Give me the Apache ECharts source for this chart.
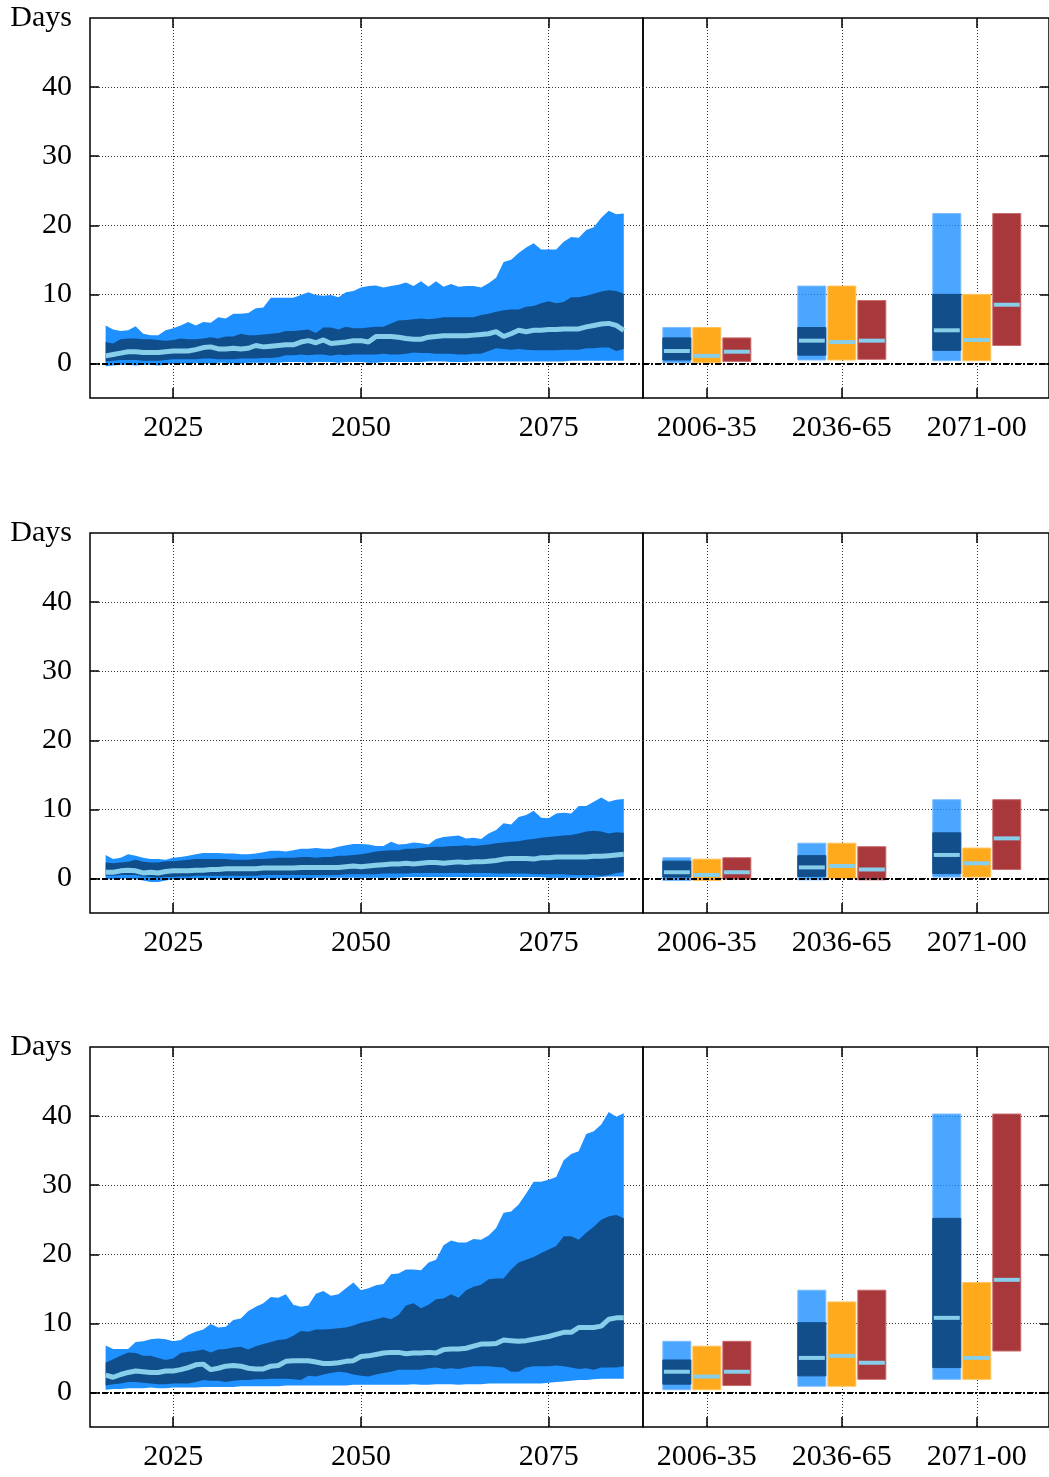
<!DOCTYPE html>
<html>
<head>
<meta charset="utf-8">
<script src="https://cdn.jsdelivr.net/npm/echarts@6/dist/echarts.min.js"></script>
<style>
  html, body { margin: 0; padding: 0; background: #fff; }
  #chart { width: 1049px; height: 1477px; }
</style>
</head>
<body>
<div id="chart"></div>
<script>
// Años de la serie temporal (2016-2085)
const years = [];
for (let y = 2016; y <= 2085; y++) years.push(y);

const yearTicks = [2025, 2050, 2075];
const periods = ['2006-35', '2036-65', '2071-00'];
const dayTicks = [0, 10, 20, 30, 40];

// Panel 1
const p1OuterHi = [5.5,4.9,4.7,4.8,5.4,4.3,4.1,4.1,4.8,5.1, 5.5,6.0,5.5,6.0,5.9,6.7,6.5,7.2,7.2,7.3, 8.0,8.1,9.5,9.5,9.5,9.5,9.9,10.3,9.9,9.8, 9.9,9.6,10.3,10.5,11.0,11.2,11.3,11.0,11.2,11.4, 11.7,11.2,11.9,11.1,11.9,11.1,11.5,11.1,11.2,11.2, 11.0,11.6,12.4,14.7,15.0,16.0,16.8,17.4,16.5,16.5, 16.5,17.6,18.3,18.2,19.3,19.7,21.1,22.1,21.6,21.7];
const p1InnerHi = [3.1,2.9,3.5,3.6,3.6,3.5,3.5,3.4,3.3,3.4, 3.6,3.5,3.5,3.6,3.8,3.6,3.9,3.9,4.3,4.1, 4.1,4.2,4.3,4.4,4.7,4.7,4.8,4.9,4.4,5.2, 5.2,4.9,5.3,5.1,5.1,5.2,5.3,5.3,5.8,6.2, 6.3,6.4,6.5,6.4,6.5,6.7,6.7,6.7,6.7,6.7, 7.0,7.2,7.5,7.7,7.8,7.8,8.2,8.3,8.7,9.0, 8.7,8.9,9.6,9.6,9.8,10.1,10.4,10.6,10.5,10.1];
const p1Median = [1.1,1.3,1.5,1.7,1.7,1.6,1.6,1.6,1.7,1.8, 1.8,1.8,2.0,2.3,2.4,2.1,2.1,2.2,2.1,2.2, 2.6,2.4,2.5,2.6,2.7,2.7,3.1,3.3,3.0,3.4, 2.9,3.0,3.1,3.3,3.3,3.1,3.9,3.9,3.9,3.8, 3.6,3.5,3.5,3.8,3.9,4.0,4.0,4.0,4.0,4.1, 4.2,4.3,4.6,3.9,4.3,4.8,4.6,4.8,4.8,4.9, 4.9,5.0,5.0,5.0,5.3,5.5,5.7,5.8,5.5,4.8];
const p1InnerLo = [0.3,0.4,0.5,0.5,0.5,0.4,0.4,0.4,0.5,0.6, 0.6,0.6,0.6,0.7,0.7,0.6,0.6,0.6,0.7,0.7, 0.7,0.8,0.8,0.9,1.2,1.2,1.3,1.2,1.3,1.3, 1.1,1.3,1.2,1.3,1.3,1.3,1.3,1.4,1.3,1.3, 1.4,1.6,1.5,1.5,1.4,1.4,1.4,1.3,1.3,1.4, 1.4,1.8,2.2,2.1,2.0,2.1,2.0,1.9,1.9,1.9, 1.9,2.0,2.0,2.0,2.2,2.2,2.3,2.3,1.8,2.1];
const p1OuterLo = [-0.4,-0.3,-0.2,-0.2,-0.3,-0.2,-0.2,-0.3,-0.2,0.0, 0.0,0.0,0.1,0.0,0.0,0.1,0.1,0.0,0.0,0.1, 0.1,0.1,0.1,0.1,0.2,0.2,0.2,0.1,0.2,0.2, 0.2,0.1,0.2,0.2,0.2,0.1,0.1,0.2,0.2,0.2, 0.2,0.2,0.2,0.3,0.3,0.3,0.2,0.2,0.2,0.3, 0.3,0.3,0.3,0.3,0.3,0.3,0.3,0.3,0.3,0.3, 0.3,0.3,0.4,0.4,0.4,0.4,0.4,0.4,0.4,0.4];

// Panel 2
const p2OuterHi = [3.4,2.8,3.0,3.5,3.3,3.0,2.8,2.8,2.7,3.0, 3.1,3.3,3.5,3.7,3.7,3.7,3.6,3.6,3.5,3.5, 3.6,3.8,4.0,4.0,3.9,4.1,4.3,4.3,4.4,4.3, 4.3,4.6,4.8,5.0,5.0,4.9,4.7,4.7,5.3,4.9, 5.0,5.2,5.1,4.9,5.7,6.0,6.1,6.2,5.8,5.9, 5.7,6.5,7.0,8.0,7.8,8.9,9.2,9.8,8.8,8.7, 9.4,9.5,9.4,10.5,10.5,11.1,11.7,11.1,11.4,11.5];
const p2InnerHi = [2.3,2.2,2.3,2.4,2.7,2.4,2.3,2.3,2.5,2.5, 2.6,2.7,2.8,2.8,2.8,2.8,2.8,2.7,2.7,2.7, 2.8,2.8,2.9,3.0,3.0,3.0,3.1,3.1,3.0,3.1, 3.1,3.3,3.3,3.4,3.5,3.7,3.9,4.0,4.1,4.1, 4.3,4.3,4.4,4.5,4.6,4.6,4.7,4.7,4.8,4.7, 4.8,4.9,5.1,5.2,5.3,5.4,5.6,5.7,5.9,6.0, 6.1,6.2,6.3,6.5,6.8,6.9,6.8,6.5,6.7,6.6];
const p2Median = [0.9,0.9,1.1,1.2,1.1,0.8,0.9,0.8,1.0,1.1, 1.1,1.1,1.2,1.2,1.3,1.3,1.4,1.4,1.4,1.4, 1.4,1.5,1.5,1.5,1.5,1.5,1.6,1.6,1.6,1.6, 1.6,1.6,1.7,1.8,1.7,1.8,1.9,2.0,2.1,2.1, 2.2,2.1,2.2,2.3,2.3,2.2,2.3,2.4,2.3,2.4, 2.4,2.5,2.6,2.8,2.9,2.9,2.9,2.8,3.0,3.0, 3.1,3.1,3.1,3.1,3.1,3.2,3.2,3.3,3.4,3.5];
const p2InnerLo = [0.4,0.4,0.5,0.5,0.5,0.3,0.2,0.1,0.2,0.2, 0.3,0.3,0.4,0.4,0.4,0.4,0.4,0.4,0.4,0.4, 0.4,0.5,0.5,0.5,0.5,0.5,0.5,0.5,0.5,0.5, 0.5,0.5,0.6,0.6,0.6,0.6,0.6,0.7,0.7,0.7, 0.7,0.8,0.8,0.8,0.8,0.8,0.8,0.8,0.8,0.8, 0.8,0.8,0.7,0.7,0.7,0.7,0.7,0.6,0.6,0.6, 0.6,0.6,0.5,0.5,0.5,0.5,0.4,0.5,0.8,0.9];
const p2OuterLo = [-0.1,-0.1,0.0,0.0,-0.1,-0.3,-0.5,-0.5,-0.3,-0.1, -0.1,0.0,0.0,0.0,0.0,0.0,0.0,0.0,0.0,0.0, 0.0,0.0,0.0,0.0,0.0,0.0,0.0,0.0,0.1,0.1, 0.1,0.1,0.1,0.1,0.1,0.1,0.1,0.1,0.1,0.1, 0.2,0.2,0.2,0.2,0.2,0.2,0.2,0.2,0.2,0.2, 0.2,0.2,0.2,0.2,0.2,0.2,0.2,0.2,0.2,0.1, 0.1,0.1,0.1,0.1,0.1,0.1,0.2,0.3,0.3,0.3];

// Panel 3
const p3OuterHi = [6.8,6.3,6.3,6.3,7.3,7.4,7.7,7.8,7.7,7.4, 7.6,8.3,8.8,9.1,9.9,9.4,9.5,10.5,10.7,11.8, 12.4,12.9,13.8,13.7,14.2,12.7,12.4,12.6,14.3,14.7, 14.0,14.2,15.1,15.9,14.8,15.1,15.5,15.7,17.1,17.2, 17.8,17.8,17.7,18.8,19.2,21.3,22.0,21.7,21.7,22.2, 22.1,22.7,23.8,26.0,26.2,27.2,28.8,30.5,30.5,30.8, 31.2,33.6,34.5,34.9,37.4,37.8,38.8,40.6,39.9,40.4];
const p3InnerHi = [4.3,4.8,5.3,5.8,5.7,5.3,5.3,5.0,4.7,4.9, 5.7,5.9,6.0,6.2,5.8,6.2,6.3,6.5,6.6,6.2, 6.7,7.0,7.3,7.6,7.7,8.2,8.9,8.8,9.1,9.1, 9.2,9.3,9.4,9.7,10.1,10.3,10.6,10.9,10.6,11.2, 12.6,12.9,12.2,12.7,13.5,13.6,14.2,13.7,14.8,15.3, 15.6,16.4,16.5,16.5,17.8,18.8,19.2,19.6,20.2,20.7, 21.2,22.6,22.6,22.1,23.1,24.0,25.0,25.5,25.7,25.2];
const p3Median = [2.5,2.2,2.6,2.9,3.1,3.0,2.9,2.9,3.1,3.1, 3.3,3.6,4.0,4.1,3.3,3.5,3.8,3.9,3.8,3.5, 3.4,3.4,3.8,3.9,4.5,4.6,4.6,4.6,4.4,4.2, 4.2,4.3,4.5,4.6,5.2,5.3,5.5,5.7,5.8,5.8, 5.6,5.7,5.7,5.8,5.7,6.2,6.3,6.3,6.4,6.7, 7.0,7.0,7.1,7.6,7.5,7.4,7.5,7.7,7.9,8.1, 8.4,8.7,8.7,9.4,9.4,9.4,9.6,10.6,10.8,10.8];
const p3InnerLo = [1.0,1.2,1.3,1.5,1.5,1.4,1.3,1.2,1.2,1.3, 1.3,1.3,1.5,1.8,1.7,1.7,1.5,1.7,1.8,1.8, 1.9,1.9,2.0,2.0,2.0,1.9,1.8,2.4,2.3,2.6, 2.8,3.0,2.9,2.6,2.4,2.3,2.6,2.8,3.0,3.3, 3.3,3.3,3.3,3.5,3.6,3.4,3.5,3.4,3.6,3.8, 3.8,3.8,3.7,3.6,3.0,3.0,3.6,3.8,3.8,3.8, 3.9,3.8,3.6,3.4,3.5,3.3,3.6,3.6,3.6,3.8];
const p3OuterLo = [0.4,0.5,0.5,0.6,0.6,0.6,0.7,0.6,0.6,0.7, 0.7,0.7,0.7,0.8,0.8,0.8,0.8,0.8,0.9,0.9, 0.9,0.9,0.9,0.9,1.0,1.0,1.0,1.0,1.0,1.0, 1.0,1.0,1.0,1.1,1.1,1.1,1.1,1.1,1.1,1.1, 1.1,1.2,1.1,1.1,1.2,1.2,1.2,1.1,1.2,1.2, 1.2,1.3,1.3,1.3,1.3,1.3,1.3,1.3,1.3,1.4, 1.5,1.6,1.7,1.8,1.8,1.9,2.0,2.0,2.0,2.0];

// Barras por periodo: [bajo, alto] y mediana
const p1BlueOuter = [[0.1,5.2],[0.5,11.2],[0.4,21.7]];
const p1BlueInner = [[0.5,3.7],[1.2,5.2],[1.9,10.0]];
const p1BlueMed = [1.8,3.3,4.8];
const p1Orange = [[0.1,5.2],[0.5,11.2],[0.4,10.0]];
const p1OrangeMed = [1.1,3.1,3.4];
const p1Red = [[0.3,3.7],[0.6,9.1],[2.6,21.7]];
const p1RedMed = [1.7,3.3,8.5];

const p2BlueOuter = [[-0.3,3.0],[-0.2,5.1],[0.2,11.4]];
const p2BlueInner = [[0.2,2.5],[0.3,3.3],[0.7,6.6]];
const p2BlueMed = [0.9,1.6,3.4];
const p2Orange = [[-0.3,2.8],[0.0,5.1],[0.2,4.4]];
const p2OrangeMed = [0.5,1.8,2.2];
const p2Red = [[-0.1,3.0],[-0.2,4.6],[1.3,11.4]];
const p2RedMed = [0.9,1.3,5.8];

const p3BlueOuter = [[0.4,7.4],[0.9,14.8],[1.9,40.3]];
const p3BlueInner = [[1.2,4.7],[2.4,10.1],[3.6,25.2]];
const p3BlueMed = [3.0,5.0,10.8];
const p3Orange = [[0.4,6.7],[0.9,13.1],[1.9,15.9]];
const p3OrangeMed = [2.3,5.3,5.0];
const p3Red = [[1.0,7.4],[1.9,14.8],[6.0,40.3]];
const p3RedMed = [3.0,4.3,16.3];

const panels = [
  { outerHi: p1OuterHi, innerHi: p1InnerHi, median: p1Median, innerLo: p1InnerLo, outerLo: p1OuterLo,
    blueOuter: p1BlueOuter, blueInner: p1BlueInner, blueMed: p1BlueMed, orange: p1Orange, orangeMed: p1OrangeMed, red: p1Red, redMed: p1RedMed },
  { outerHi: p2OuterHi, innerHi: p2InnerHi, median: p2Median, innerLo: p2InnerLo, outerLo: p2OuterLo,
    blueOuter: p2BlueOuter, blueInner: p2BlueInner, blueMed: p2BlueMed, orange: p2Orange, orangeMed: p2OrangeMed, red: p2Red, redMed: p2RedMed },
  { outerHi: p3OuterHi, innerHi: p3InnerHi, median: p3Median, innerLo: p3InnerLo, outerLo: p3OuterLo,
    blueOuter: p3BlueOuter, blueInner: p3BlueInner, blueMed: p3BlueMed, orange: p3Orange, orangeMed: p3OrangeMed, red: p3Red, redMed: p3RedMed }
];

const panelTops = [18, 533, 1047];
const FONT = 'Liberation Serif';
const BAR_W = 28;
const BAR_OFF = 30;

const COL_OUTER = '#1e90ff';
const COL_INNER = '#104e8b';
const COL_MED = '#87ceeb';

const gridLine = { show: true, lineStyle: { type: [1, 2], color: '#333', width: 1 } };
const labelStyle = { color: '#000', fontFamily: FONT, fontSize: 30 };
const sinLinea = { show: false, onZero: false };

// Banda rellena entre dos curvas
function banda(p, lo, hi, color) {
  return {
    type: 'custom', xAxisIndex: 4 * p, yAxisIndex: 2 * p,
    silent: true, animation: false,
    data: [[years[0], lo[0]]],
    renderItem: (params, api) => {
      const pts = [];
      years.forEach((y, i) => pts.push(api.coord([y, hi[i]])));
      for (let i = years.length - 1; i >= 0; i--) pts.push(api.coord([years[i], lo[i]]));
      return { type: 'polygon', shape: { points: pts }, style: { fill: color } };
    }
  };
}

// Barra flotante [bajo, alto] desplazada respecto al periodo
function barra(p, filas, off, fill, stroke) {
  return {
    type: 'custom', xAxisIndex: 4 * p + 2, yAxisIndex: 2 * p + 1,
    silent: true, animation: false,
    data: filas.map((r, i) => [i, r[0], r[1]]),
    renderItem: (params, api) => {
      const a = api.coord([api.value(0), api.value(2)]);
      const b = api.coord([api.value(0), api.value(1)]);
      return {
        type: 'rect',
        shape: { x: a[0] + off - BAR_W / 2, y: a[1], width: BAR_W, height: b[1] - a[1] },
        style: { fill: fill, stroke: stroke, lineWidth: 1 }
      };
    }
  };
}

function medianas(p, vals, off, conCero) {
  const s = {
    type: 'custom', xAxisIndex: 4 * p + 2, yAxisIndex: 2 * p + 1,
    silent: true, animation: false,
    data: vals.map((v, i) => [i, v]),
    renderItem: (params, api) => {
      const c = api.coord([api.value(0), api.value(1)]);
      return {
        type: 'rect',
        shape: { x: c[0] + off - BAR_W / 2 + 1, y: c[1] - 2, width: BAR_W - 2, height: 4 },
        style: { fill: COL_MED }
      };
    }
  };
  if (conCero) s.markLine = lineaCero();
  return s;
}

function lineaCero() {
  return {
    silent: true, symbol: ['none', 'none'], label: { show: false },
    lineStyle: { color: '#000', width: 2, type: [6, 2, 2, 2] },
    data: [{ yAxis: 0 }]
  };
}

const grid = [], xAxis = [], yAxis = [], series = [];

panels.forEach((d, p) => {
  const top = panelTops[p];
  grid.push({ left: 90, top: top, width: 553, height: 380, show: true, borderColor: '#000', borderWidth: 1.5 });
  grid.push({ left: 643, top: top, width: 407, height: 380, show: true, borderColor: '#000', borderWidth: 1.5 });

  // eje de años
  xAxis.push({
    type: 'value', gridIndex: 2 * p, min: 2013.92, max: 2087.56, position: 'bottom',
    axisLine: sinLinea,
    axisTick: { inside: true, length: 10, customValues: yearTicks, lineStyle: { color: '#000', width: 1.5 } },
    axisLabel: Object.assign({ customValues: yearTicks, margin: 15, formatter: v => String(v) }, labelStyle),
    splitLine: gridLine
  });
  xAxis.push({
    type: 'value', gridIndex: 2 * p, min: 2013.92, max: 2087.56, position: 'top',
    axisLine: sinLinea,
    axisTick: { inside: true, length: 10, customValues: yearTicks, lineStyle: { color: '#000', width: 1.5 } },
    axisLabel: { show: false }, splitLine: { show: false }
  });
  // eje de periodos
  xAxis.push({
    type: 'value', gridIndex: 2 * p + 1, min: -0.473, max: 2.535, position: 'bottom',
    axisLine: sinLinea,
    axisTick: { inside: true, length: 10, customValues: [0, 1, 2], lineStyle: { color: '#000', width: 1.5 } },
    axisLabel: Object.assign({ customValues: [0, 1, 2], margin: 15, formatter: v => periods[Math.round(v)] }, labelStyle),
    splitLine: gridLine
  });
  xAxis.push({
    type: 'value', gridIndex: 2 * p + 1, min: -0.473, max: 2.535, position: 'top',
    axisLine: sinLinea,
    axisTick: { inside: true, length: 10, customValues: [0, 1, 2], lineStyle: { color: '#000', width: 1.5 } },
    axisLabel: { show: false }, splitLine: { show: false }
  });

  yAxis.push({
    type: 'value', gridIndex: 2 * p, min: -5, max: 50, position: 'left',
    axisLine: sinLinea,
    axisTick: { inside: true, length: 9, customValues: dayTicks, lineStyle: { color: '#000', width: 1.5 } },
    axisLabel: Object.assign({ customValues: dayTicks.concat([50]), margin: 18, formatter: v => (v === 50 ? 'Days' : String(v)) }, labelStyle),
    splitLine: gridLine
  });
  yAxis.push({
    type: 'value', gridIndex: 2 * p + 1, min: -5, max: 50, position: 'right',
    axisLine: sinLinea,
    axisTick: { inside: true, length: 9, customValues: dayTicks, lineStyle: { color: '#000', width: 1.5 } },
    axisLabel: { show: false },
    splitLine: gridLine
  });

  series.push(banda(p, d.outerLo, d.outerHi, COL_OUTER));
  series.push(banda(p, d.innerLo, d.innerHi, COL_INNER));
  series.push({
    type: 'line', xAxisIndex: 4 * p, yAxisIndex: 2 * p,
    data: years.map((y, i) => [y, d.median[i]]),
    showSymbol: false, silent: true, animation: false,
    lineStyle: { color: COL_MED, width: 5 },
    markLine: lineaCero()
  });

  series.push(barra(p, d.blueOuter, -BAR_OFF, 'rgba(30,144,255,0.8)', '#7cbcff'));
  series.push(barra(p, d.blueInner, -BAR_OFF, '#124e8a', '#124e8a'));
  series.push(barra(p, d.orange, 0, '#ffa91c', '#ffc45e'));
  series.push(barra(p, d.red, BAR_OFF, '#a8383b', '#c86a6c'));
  series.push(medianas(p, d.blueMed, -BAR_OFF, false));
  series.push(medianas(p, d.orangeMed, 0, false));
  series.push(medianas(p, d.redMed, BAR_OFF, true));
});

const chart = echarts.init(document.getElementById('chart'));
chart.setOption({
  backgroundColor: '#fff',
  animation: false,
  grid: grid,
  xAxis: xAxis,
  yAxis: yAxis,
  series: series
});
</script>
</body>
</html>
